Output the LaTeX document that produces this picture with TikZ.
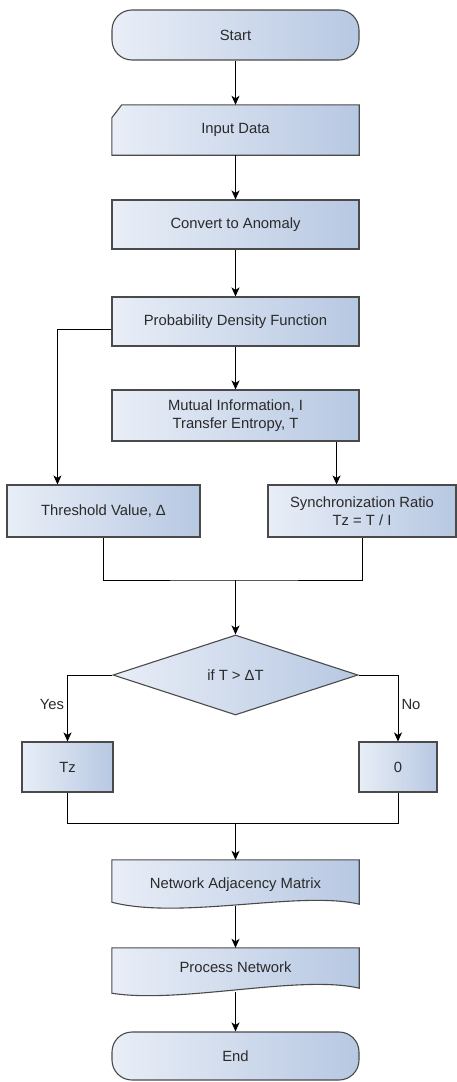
\documentclass[tikz,border=0pt]{standalone}
\usepackage{fontspec}
\setmainfont{Liberation Sans}
\usetikzlibrary{arrows.meta,calc,shapes.geometric}
\definecolor{cleft}{HTML}{E9EEF7}
\definecolor{cright}{HTML}{B7C8E2}
\definecolor{bord}{HTML}{4A4A4A}
\definecolor{txt}{HTML}{2A2A2A}
\tikzset{
  boxfill/.style={left color=cleft, right color=cright, draw=bord, line width=1.1pt},
  procbox/.style={boxfill, rectangle, inner sep=0pt, minimum width=247pt, minimum height=#1, align=center, text=txt},
  plainnode/.style={rectangle, inner sep=0pt, minimum width=247pt, minimum height=#1, align=center, text=txt},
  conn/.style={draw=black, line width=1pt},
  arr/.style={conn, -{Stealth[length=9pt,width=8pt,inset=2.5pt]}},
  lbl/.style={text=txt, inner sep=3pt}
}
\begin{document}
\begin{tikzpicture}[x=1pt,y=-1pt,font=\fontsize{14.8}{17.5}\selectfont]
\useasboundingbox (0,0) rectangle (457,1082);

% nodes
\node[procbox=50pt, rounded corners=20pt] (start) at (235.5,35) {Start};
\node[plainnode=50pt] (input) at (235.5,130) {};
\path[boxfill] ($(input.north west)+(0,13)$) -- ($(input.north west)+(10,0)$) -- (input.north east) -- (input.south east) -- (input.south west) -- cycle;
\node[text=txt] at (input.center) {Input Data};
\node[procbox=49pt] (convert) at (235.5,224.5) {Convert to Anomaly};
\node[procbox=49pt] (pdf) at (235.5,321.5) {Probability Density Function};
\node[procbox=51pt] (mi) at (235.5,415.5) {Mutual Information, I\\Transfer Entropy, T};
\node[procbox=52pt, minimum width=193pt] (thr) at (103.5,511) {Threshold Value, Δ};
\node[procbox=52pt, minimum width=188pt] (sync) at (362,511) {Synchronization Ratio\\Tz = T / I};
\node[diamond, aspect=3, boxfill, inner sep=0pt, minimum width=245pt, minimum height=80pt, text=txt] (dec) at (235.5,675) {if T > ΔT};
\node[procbox=50pt, minimum width=91pt] (tz) at (67.5,767) {Tz};
\node[procbox=50pt, minimum width=78pt] (zero) at (398,767) {0};

\node[plainnode=46pt] (nam) at (235.5,883) {};
\path[boxfill] (nam.north west) -- (nam.north east) -- ($(nam.south east)+(0,-2)$)
  .. controls ($(nam.south)+(65,-16)$) and ($(nam.south)+(-55,14)$) .. ($(nam.south west)+(0,-4)$) -- cycle;
\node[text=txt] at ($(nam.center)+(0,2)$) {Network Adjacency Matrix};

\node[plainnode=44pt] (proc) at (235.5,970) {};
\path[boxfill] (proc.north west) -- (proc.north east) -- ($(proc.south east)+(0,-4)$)
  .. controls ($(proc.south)+(65,-18)$) and ($(proc.south)+(-55,12)$) .. ($(proc.south west)+(0,1)$) -- cycle;
\node[text=txt] at ($(proc.center)+(0,-3)$) {Process Network};

\node[procbox=48pt, rounded corners=20pt] (end) at (235.5,1056) {End};

\coordinate (m1) at (235.5,580);
\coordinate (m2) at (235.5,823);
\coordinate (mo) at ($(mi.south east)+(-23,0)$);
\coordinate (po) at ([yshift=-7.5pt]pdf.west);

% connectors
\draw[arr] (start) -- (input);
\draw[arr] (input) -- (convert);
\draw[arr] (convert) -- (pdf);
\draw[arr] (pdf) -- (mi);
\draw[arr] (po) -| ($(thr.north west)+(51,0)$);
\draw[arr] (mo) -- (mo |- sync.north);
\draw[conn] (thr.south) |- (m1) -| (sync.south);
\draw[arr] (m1) -- (dec.north);
\draw[arr] (dec.west) -| (tz.north) node[lbl, pos=0.72, left] {Yes};
\draw[arr] (dec.east) -| (zero.north) node[lbl, pos=0.72, right] {No};
\draw[conn] (tz.south) |- (m2) -| (zero.south);
\draw[arr] (m2) -- (nam.north);
\draw[arr] (nam.south) -- (proc.north);
\draw[arr] (proc.south) -- (end.north);
\end{tikzpicture}
\end{document}
